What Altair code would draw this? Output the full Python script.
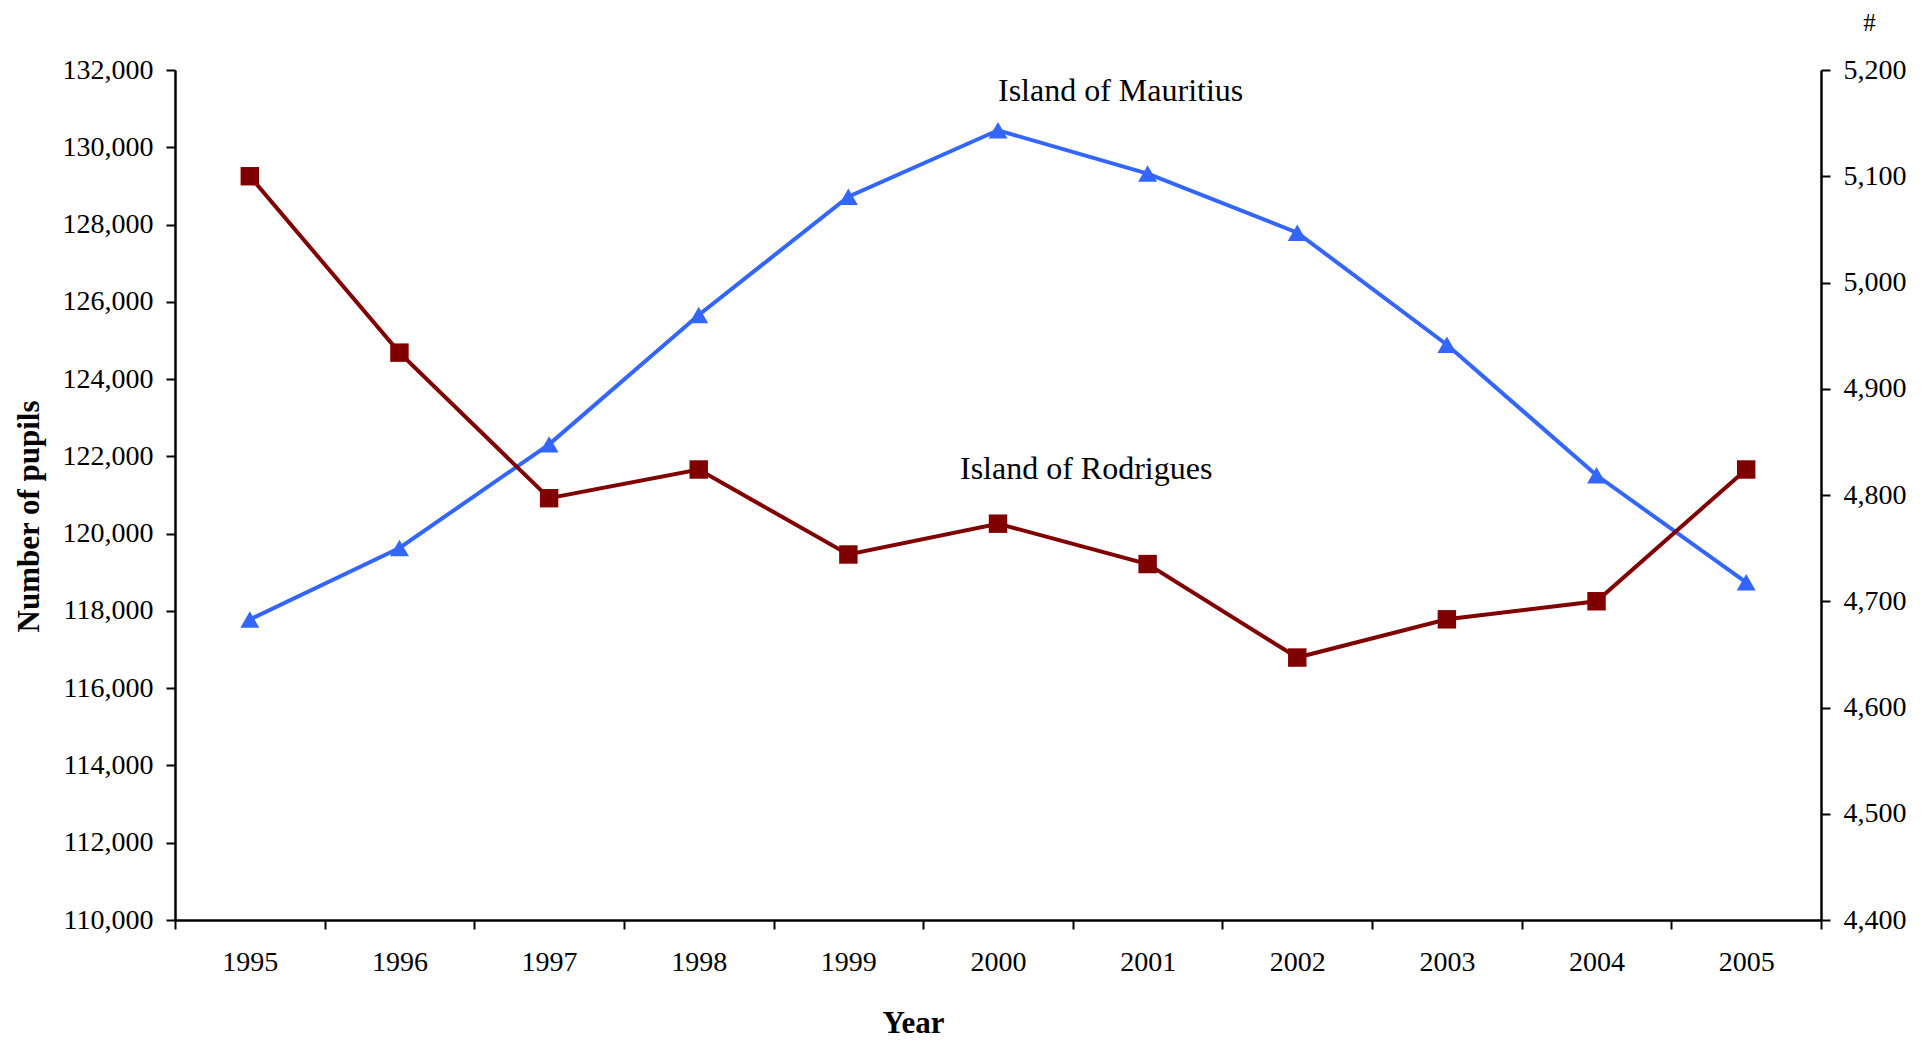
import altair as alt
import pandas as pd

years = ["1995", "1996", "1997", "1998", "1999", "2000", "2001", "2002", "2003", "2004", "2005"]
mauritius = [117780, 119630, 122310, 125660, 128720, 130440, 129320, 127790, 124890, 121510, 118740]
rodrigues = [5100, 4934, 4797, 4824, 4744, 4773, 4735, 4647, 4683, 4700, 4824]

left_ticks = list(range(110000, 132001, 2000))
right_ticks = list(range(4400, 5201, 100))

label_text = ["Island of Mauritius", "Island of Rodrigues"]
label_year = ["2000", "2000"]
label_value = [131205, 121414]
label_dx = [0, -38]

FONT = "Liberation Serif"
BLUE = "#3366FF"
RED = "#800000"

df = pd.DataFrame({"year": years, "mauritius": mauritius, "rodrigues": rodrigues})

xenc = alt.X(
    "year:O",
    bandPosition=0.5,
    scale=alt.Scale(type="band", paddingInner=0, paddingOuter=0, domain=years),
    axis=alt.Axis(
        title="Year", tickBand="extent", labelAngle=0, labelFont=FONT, labelFontSize=28,
        labelColor="black", labelPadding=19, tickSize=9, tickWidth=2, tickColor="black",
        domainColor="black", domainWidth=2.5, titleFont=FONT, titleFontSize=31,
        titleFontWeight="bold", titleColor="black", titleX=738, titleY=119,
        titleBaseline="bottom", titleAlign="center",
    ),
)

left_scale = alt.Scale(domain=[110000, 132000], nice=False, zero=False)
left_axis = alt.Axis(
    title="Number of pupils", values=left_ticks, format=",d", grid=False,
    labelFont=FONT, labelFontSize=28, labelColor="black", labelPadding=13,
    tickSize=9, tickWidth=2, tickColor="black", domainColor="black", domainWidth=2.5,
    titleFont=FONT, titleFontSize=31, titleFontWeight="bold", titleColor="black",
    titleAngle=270, titleX=-146, titleY=446, titleAlign="center", titleBaseline="middle",
)

line_m = alt.Chart(df).mark_line(
    color=BLUE, strokeWidth=4,
    point=alt.OverlayMarkDef(shape="triangle-up", size=360, filled=True, color=BLUE, opacity=1),
).encode(
    x=xenc,
    y=alt.Y("mauritius:Q", scale=left_scale, axis=left_axis, title="Number of pupils"),
)

texts = []
for t, yr, v, d in zip(label_text, label_year, label_value, label_dx):
    ldf = pd.DataFrame({"text": [t], "year": [yr], "value": [v]})
    texts.append(
        alt.Chart(ldf).mark_text(
            font=FONT, fontSize=32, color="black", align="left", baseline="alphabetic", dx=d
        ).encode(
            x=alt.X("year:O", bandPosition=0.5),
            y=alt.Y("value:Q", scale=left_scale, axis=left_axis, title="Number of pupils"),
            text="text:N",
        )
    )

left_layer = alt.layer(line_m, *texts)

line_r = alt.Chart(df).mark_line(
    color=RED, strokeWidth=4,
    point=alt.OverlayMarkDef(shape="square", size=340, filled=True, color=RED, opacity=1),
).encode(
    x=xenc,
    y=alt.Y(
        "rodrigues:Q", scale=alt.Scale(domain=[4400, 5200], nice=False, zero=False),
        axis=alt.Axis(
            orient="right", title="#", values=right_ticks, format=",d", grid=False,
            labelFont=FONT, labelFontSize=28, labelColor="black", labelPadding=13,
            tickSize=9, tickWidth=2, tickColor="black", domainColor="black", domainWidth=2.5,
            titleFont=FONT, titleFontSize=25, titleFontWeight="normal", titleColor="black",
            titleAngle=0, titleX=48, titleY=-60, titleAlign="center", titleBaseline="top",
        ),
    ),
)

chart = alt.layer(left_layer, line_r).resolve_scale(y="independent").properties(
    width=1646, height=850,
    padding={"left": 167, "top": 62, "right": 100, "bottom": 120},
    autosize=alt.AutoSizeParams(type="none"),
    background="white",
).configure_view(stroke=None)

chart.save("out.html", embed_options={"renderer": "svg", "actions": False})
